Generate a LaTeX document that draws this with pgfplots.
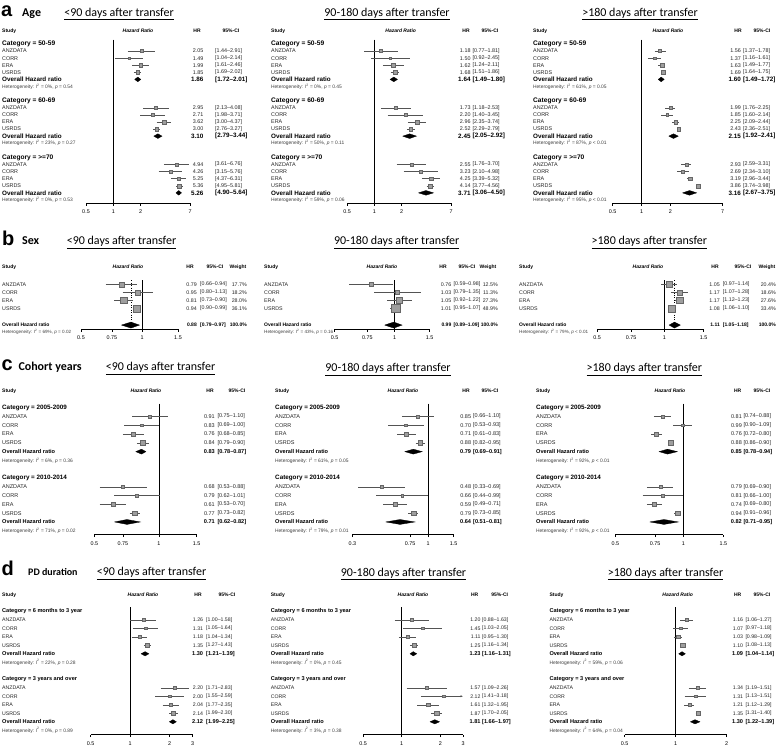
\documentclass[border=0pt]{standalone}
\usepackage{pgfplots}
\pgfplotsset{compat=1.18}
\usetikzlibrary{arrows.meta}
\usepackage{fontspec}
\setmainfont{Liberation Sans}
\newfontfamily\carl{Carlito}
\definecolor{cig}{gray}{0.33}
\definecolor{sqf}{gray}{0.62}
\definecolor{sqd}{gray}{0.40}
\newcommand\fs[1]{\fontsize{#1}{#1}\selectfont}
\def\NF{5.4}\def\CF{6.4}\def\OF{6.2}\def\HF{4.9}\def\HDF{5}
\tikzset{
  nm/.style={inner sep=0pt, anchor=west, font=\fs{\NF}, text=black!85},
  nr/.style={inner sep=0pt, anchor=east, font=\fs{\NF}, text=black!85},
  ct/.style={inner sep=0pt, anchor=west, font=\bfseries\fs{\CF}},
  ov/.style={inner sep=0pt, anchor=west, font=\bfseries\fs{\OF}},
  ovr/.style={inner sep=0pt, anchor=east, font=\bfseries\fs{\OF}},
  ht/.style={inner sep=0pt, anchor=west, font=\fs{\HF}, text=black!75},
  hd/.style={inner sep=0pt, font=\bfseries\fs{\HDF}},
  hdi/.style={inner sep=0pt, font=\bfseries\itshape\fs{\HDF}},
  ttl/.style={inner sep=0pt, anchor=base, font=\carl\fs{12}},
  plet/.style={inner sep=0pt, anchor=base west, font=\bfseries\fs{20}},
  cw/.style={inner sep=0pt, anchor=base west, font=\carl\bfseries\fs{12}},
}
\newcommand\tHead[4]{\node[hd,anchor=west] at (\NX,#1) {Study};
  \node[hdi] at (#2,#1) {Hazard Ratio};
  \node[hd] at (#3,#1) {HR};
  \node[hd] at (#4,#1) {95\%-CI};}
\newcommand\tHeadW[5]{\tHead{#1}{#2}{#3}{#4}\node[hd] at (#5,#1) {Weight};}
\newcommand\tC[2]{\node[ct] at (\NX,#1) {Category = #2};}
\newcommand\tS[4]{\node[nm] at (\NX,#1) {#2};\node[nr] at (\HX,#1) {#3};\node[nm] at (\CX,#1) {[#4]};}
\newcommand\tW[5]{\tS{#1}{#2}{#3}{#4}\node[nr] at (\WX,#1) {#5\%};}
\newcommand\tO[3]{\node[ov] at (\NX,#1) {Overall Hazard ratio};\node[ovr] at (\HX,#1) {#2};\node[ov] at (\CX,#1) {[#3]};}
\newcommand\tOW[3]{\tO{#1}{#2}{#3}\node[ovr] at (\WX,#1) {100.0\%};}
\newcommand\tH[3]{\node[ht] at (\NX,#1) {Heterogeneity: \textit{I}\textsuperscript{2} = #2\%, \textit{p} #3};}

\pgfplotsset{
  fpax/.style={scale only axis, anchor=south west, clip=false,
    axis x line*=bottom, axis y line=none, ytick=\empty,
    xtick align=outside, major tick length=2.5pt, xminorticks=false,
    axis line style={black, line width=0.45pt},
    tick style={black, line width=0.45pt},
    xticklabel style={font=\fs{5.4}, inner sep=1.5pt, yshift=-2.5pt}},
  sqst/.style={only marks, mark=square*, mark options={fill=sqf, draw=sqd, line width=0.3pt}},
  cil/.style={cig, line width=0.45pt},
  dia/.style={fill=black, draw=black, line width=0.3pt},
}
\newcommand\aS[5]{\addplot[sqst, mark size=#5] coordinates {(#2,-#1)};\addplot[cil] coordinates {(#3,-#1) (#4,-#1)};}
\newcommand\aD[5]{\pgfmathsetmacro\ya{-#1+#5}\pgfmathsetmacro\yb{-#1-#5}\addplot[dia] coordinates {(#3,-#1) (#2,\ya) (#4,-#1) (#2,\yb) (#3,-#1)};}
\newcommand\aR[2]{\addplot[black, line width=0.45pt] coordinates {(1,#1) (1,#2)};}
\newcommand\aO[3]{\addplot[black, dotted, line width=0.45pt] coordinates {(#1,#2) (#1,#3)};}

\begin{document}
\begin{tikzpicture}
\useasboundingbox (0,0) rectangle (778pt,-746pt);

% ================= headings
\node[plet] at (1pt,-16.5pt) {a};
\node[cw] at (22pt,-16.3pt) {Age};
\node[ttl] at (119pt,-16.3pt) {\underline{<90 days after transfer}};
\node[ttl] at (387pt,-16.3pt) {\underline{90-180 days after transfer}};
\node[ttl] at (640pt,-16.3pt) {\underline{>180 days after transfer}};
\node[plet] at (2pt,-245pt) {b};
\node[cw] at (22pt,-244.5pt) {Sex};
\node[ttl] at (121.5pt,-244.5pt) {\underline{<90 days after transfer}};
\node[ttl] at (396.7pt,-244.5pt) {\underline{90-180 days after transfer}};
\node[ttl] at (649.3pt,-244.5pt) {\underline{>180 days after transfer}};
\node[plet] at (1.5pt,-370.5pt) {c};
\node[cw] at (18.3pt,-370.5pt) {Cohort years};
\node[ttl] at (160.5pt,-370.5pt) {\underline{<90 days after transfer}};
\node[ttl] at (388pt,-371.5pt) {\underline{90-180 days after transfer}};
\node[ttl] at (644.3pt,-371.5pt) {\underline{>180 days after transfer}};
\node[plet] at (1.5pt,-575.5pt) {d};
\node[cw, font=\carl\bfseries\fs{10}] at (28pt,-575.5pt) {PD duration};
\node[ttl] at (151.5pt,-575.5pt) {\underline{<90 days after transfer}};
\node[ttl] at (403.5pt,-576pt) {\underline{90-180 days after transfer}};
\node[ttl] at (665.5pt,-576pt) {\underline{>180 days after transfer}};

% ================= ROW A text
\def\NF{5.4}\def\CF{6.6}\def\OF{6.3}
\begin{scope}[shift={(0pt,-44pt)}, x=1pt, y=-7.09pt]
\def\NX{2}\def\HX{203.5}\def\CX{215}
\tHead{-1.83}{138}{197}{231}
\tC{0}{50-59}
\tS{1}{ANZDATA}{2.05}{1.44--2.91}
\tS{2}{CORR}{1.49}{1.04--2.14}
\tS{3}{ERA}{1.99}{1.61--2.46}
\tS{4}{USRDS}{1.85}{1.69--2.02}
\tO{5}{1.86}{1.72--2.01}
\tH{6}{0}{= 0.54}
\tC{8}{60-69}
\tS{9}{ANZDATA}{2.95}{2.13--4.08}
\tS{10}{CORR}{2.71}{1.98--3.71}
\tS{11}{ERA}{3.62}{3.00--4.37}
\tS{12}{USRDS}{3.00}{2.76--3.27}
\tO{13}{3.10}{2.79--3.44}
\tH{14}{23}{= 0.27}
\tC{16}{>=70}
\tS{17}{ANZDATA}{4.94}{3.61--6.76}
\tS{18}{CORR}{4.26}{3.15--5.76}
\tS{19}{ERA}{5.25}{4.37--6.31}
\tS{20}{USRDS}{5.36}{4.95--5.81}
\tO{21}{5.26}{4.90--5.64}
\tH{22}{0}{= 0.53}
\end{scope}
\begin{scope}[shift={(0pt,-44pt)}, x=1pt, y=-7.09pt]
\def\NX{271}\def\HX{470.7}\def\CX{472.5}
\tHead{-1.83}{400.7}{466}{490}
\tC{0}{50-59}
\tS{1}{ANZDATA}{1.18}{0.77--1.81}
\tS{2}{CORR}{1.50}{0.92--2.45}
\tS{3}{ERA}{1.62}{1.24--2.11}
\tS{4}{USRDS}{1.68}{1.51--1.86}
\tO{5}{1.64}{1.49--1.80}
\tH{6}{0}{= 0.45}
\tC{8}{60-69}
\tS{9}{ANZDATA}{1.73}{1.18--2.53}
\tS{10}{CORR}{2.20}{1.40--3.45}
\tS{11}{ERA}{2.96}{2.35--3.74}
\tS{12}{USRDS}{2.52}{2.29--2.79}
\tO{13}{2.45}{2.05--2.92}
\tH{14}{50}{= 0.11}
\tC{16}{>=70}
\tS{17}{ANZDATA}{2.55}{1.76--3.70}
\tS{18}{CORR}{3.23}{2.10--4.98}
\tS{19}{ERA}{4.25}{3.39--5.32}
\tS{20}{USRDS}{4.14}{3.77--4.56}
\tO{21}{3.71}{3.06--4.50}
\tH{22}{59}{= 0.06}
\end{scope}
\begin{scope}[shift={(0pt,-44pt)}, x=1pt, y=-7.09pt]
\def\NX{533}\def\HX{741}\def\CX{743}
\tHead{-1.83}{668}{738}{762}
\tC{0}{50-59}
\tS{1}{ANZDATA}{1.56}{1.37--1.78}
\tS{2}{CORR}{1.37}{1.16--1.61}
\tS{3}{ERA}{1.63}{1.49--1.77}
\tS{4}{USRDS}{1.69}{1.64--1.75}
\tO{5}{1.60}{1.49--1.72}
\tH{6}{61}{= 0.05}
\tC{8}{60-69}
\tS{9}{ANZDATA}{1.99}{1.76--2.25}
\tS{10}{CORR}{1.85}{1.60--2.14}
\tS{11}{ERA}{2.25}{2.09--2.44}
\tS{12}{USRDS}{2.43}{2.36--2.51}
\tO{13}{2.15}{1.92--2.41}
\tH{14}{87}{< 0.01}
\tC{16}{>=70}
\tS{17}{ANZDATA}{2.93}{2.59--3.31}
\tS{18}{CORR}{2.69}{2.34--3.10}
\tS{19}{ERA}{3.19}{2.96--3.44}
\tS{20}{USRDS}{3.86}{3.74--3.98}
\tO{21}{3.16}{2.67--3.75}
\tH{22}{95}{< 0.01}
\end{scope}

% ================= ROW A plots
\begin{axis}[fpax, xmode=log, at={(86pt,-203pt)}, width=104pt, height=163.3pt, xmin=0.5, xmax=7, ymin=-22.43, ymax=0.6, xtick={0.5,1,2,7}, xticklabels={0.5,1,2,7}]
\aR{0.6}{-22.43}
\aS{1}{2.05}{1.44}{2.91}{1.5}\aS{2}{1.49}{1.04}{2.14}{1.3}\aS{3}{1.99}{1.61}{2.46}{1.7}\aS{4}{1.85}{1.69}{2.02}{1.9}
\aD{5}{1.86}{1.72}{2.01}{0.33}
\aS{9}{2.95}{2.13}{4.08}{1.5}\aS{10}{2.71}{1.98}{3.71}{1.3}\aS{11}{3.62}{3.00}{4.37}{1.7}\aS{12}{3.00}{2.76}{3.27}{1.9}
\aD{13}{3.10}{2.79}{3.44}{0.33}
\aS{17}{4.94}{3.61}{6.76}{1.5}\aS{18}{4.26}{3.15}{5.76}{1.3}\aS{19}{5.25}{4.37}{6.31}{1.7}\aS{20}{5.36}{4.95}{5.81}{1.9}
\aD{21}{5.26}{4.90}{5.64}{0.33}
\end{axis}
\begin{axis}[fpax, xmode=log, at={(347pt,-203pt)}, width=104pt, height=163.3pt, xmin=0.5, xmax=7, ymin=-22.43, ymax=0.6, xtick={0.5,1,2,7}, xticklabels={0.5,1,2,7}]
\aR{0.6}{-22.43}
\aS{1}{1.18}{0.77}{1.81}{1.5}\aS{2}{1.50}{0.92}{2.45}{1.3}\aS{3}{1.62}{1.24}{2.11}{1.7}\aS{4}{1.68}{1.51}{1.86}{1.9}
\aD{5}{1.64}{1.49}{1.80}{0.33}
\aS{9}{1.73}{1.18}{2.53}{1.5}\aS{10}{2.20}{1.40}{3.45}{1.3}\aS{11}{2.96}{2.35}{3.74}{1.7}\aS{12}{2.52}{2.29}{2.79}{1.9}
\aD{13}{2.45}{2.05}{2.92}{0.33}
\aS{17}{2.55}{1.76}{3.70}{1.5}\aS{18}{3.23}{2.10}{4.98}{1.3}\aS{19}{4.25}{3.39}{5.32}{1.7}\aS{20}{4.14}{3.77}{4.56}{1.9}
\aD{21}{3.71}{3.06}{4.50}{0.33}
\end{axis}
\begin{axis}[fpax, xmode=log, at={(612.7pt,-203pt)}, width=110pt, height=163.3pt, xmin=0.5, xmax=7, ymin=-22.43, ymax=0.6, xtick={0.5,1,2,7}, xticklabels={0.5,1,2,7}]
\aR{0.6}{-22.43}
\aS{1}{1.56}{1.37}{1.78}{1.5}\aS{2}{1.37}{1.16}{1.61}{1.3}\aS{3}{1.63}{1.49}{1.77}{1.7}\aS{4}{1.69}{1.64}{1.75}{1.9}
\aD{5}{1.60}{1.49}{1.72}{0.33}
\aS{9}{1.99}{1.76}{2.25}{1.5}\aS{10}{1.85}{1.60}{2.14}{1.3}\aS{11}{2.25}{2.09}{2.44}{1.7}\aS{12}{2.43}{2.36}{2.51}{1.9}
\aD{13}{2.15}{1.92}{2.41}{0.33}
\aS{17}{2.93}{2.59}{3.31}{1.5}\aS{18}{2.69}{2.34}{3.10}{1.3}\aS{19}{3.19}{2.96}{3.44}{1.7}\aS{20}{3.86}{3.74}{3.98}{1.9}
\aD{21}{3.16}{2.67}{3.75}{0.33}
\end{axis}

% ================= ROW B text
\def\NF{5.3}\def\OF{5.0}\def\HF{4.6}
\begin{scope}[shift={(0pt,-284.3pt)}, x=1pt, y=-8pt]
\def\NX{2}\def\HX{197}\def\CX{200}\def\WX{247}
\tHeadW{-2.16}{128}{190}{215}{238}
\tW{0}{ANZDATA}{0.79}{0.66--0.94}{17.7}
\tW{1}{CORR}{0.95}{0.80--1.13}{18.2}
\tW{2}{ERA}{0.81}{0.73--0.90}{28.0}
\tW{3}{USRDS}{0.94}{0.90--0.99}{36.1}
\tOW{5.1}{0.88}{0.79--0.97}
\tH{6.0}{69}{= 0.02}
\end{scope}
\begin{scope}[shift={(0pt,-284.3pt)}, x=1pt, y=-8pt]
\def\NX{264}\def\HX{451.5}\def\CX{453.5}\def\WX{498}
\tHeadW{-2.16}{382}{443}{467}{488}
\tW{0}{ANZDATA}{0.76}{0.59--0.98}{12.5}
\tW{1}{CORR}{1.03}{0.79--1.35}{11.3}
\tW{2}{ERA}{1.05}{0.92--1.22}{27.3}
\tW{3}{USRDS}{1.01}{0.95--1.07}{48.9}
\tOW{5.1}{0.99}{0.89--1.09}
\tH{6.0}{43}{= 0.16}
\end{scope}
\begin{scope}[shift={(0pt,-284.3pt)}, x=1pt, y=-8pt]
\def\NX{519}\def\HX{720}\def\CX{722.7}\def\WX{776}
\tHeadW{-2.16}{648}{715}{743}{767}
\tW{0}{ANZDATA}{1.05}{0.97--1.14}{20.4}
\tW{1}{CORR}{1.17}{1.07--1.28}{18.6}
\tW{2}{ERA}{1.17}{1.12--1.23}{27.6}
\tW{3}{USRDS}{1.08}{1.06--1.10}{33.4}
\tOW{5.1}{1.11}{1.05--1.18}
\tH{6.0}{79}{< 0.01}
\end{scope}
\def\HF{4.9}

% ================= ROW B plots
\begin{axis}[fpax, xmode=log, at={(81pt,-329pt)}, width=97pt, height=48.72pt, xmin=0.5, xmax=1.5, ymin=-5.59, ymax=0.5, xtick={0.5,0.71,1,1.5}, xticklabels={0.5,0.75,1,1.5}]
\aR{0.5}{-5.59}\aO{0.88}{0.5}{-5.59}
\aS{0}{0.79}{0.66}{0.94}{2.5}\aS{1}{0.95}{0.80}{1.13}{2.54}\aS{2}{0.81}{0.73}{0.90}{3.15}\aS{3}{0.94}{0.90}{0.99}{3.57}
\aD{5.1}{0.88}{0.79}{0.97}{0.375}
\end{axis}
\begin{axis}[fpax, xmode=log, at={(334.7pt,-329pt)}, width=95pt, height=48.72pt, xmin=0.5, xmax=1.5, ymin=-5.59, ymax=0.5, xtick={0.5,0.73,1,1.5}, xticklabels={0.5,0.75,1,1.5}]
\aR{0.5}{-5.59}\aO{0.99}{0.5}{-5.59}
\aS{0}{0.76}{0.59}{0.98}{2.1}\aS{1}{1.03}{0.79}{1.35}{2.0}\aS{2}{1.05}{0.92}{1.22}{3.1}\aS{3}{1.01}{0.95}{1.07}{4.16}
\aD{5.1}{0.99}{0.89}{1.09}{0.375}
\end{axis}
\begin{axis}[fpax, xmode=log, at={(597pt,-329pt)}, width=106.7pt, height=48.72pt, xmin=0.5, xmax=1.5, ymin=-5.59, ymax=0.5, xtick={0.5,0.71,1,1.5}, xticklabels={0.5,0.75,1,1.5}]
\aR{0.5}{-5.59}\aO{1.11}{0.5}{-5.59}
\aS{0}{1.05}{0.97}{1.14}{2.69}\aS{1}{1.17}{1.07}{1.28}{2.57}\aS{2}{1.17}{1.12}{1.23}{3.13}\aS{3}{1.08}{1.06}{1.10}{3.44}
\aD{5.1}{1.11}{1.05}{1.18}{0.375}
\end{axis}

% ================= ROW C text
\def\NF{5.5}\def\CF{6.3}\def\OF{5.6}
\begin{scope}[shift={(0pt,-407.7pt)}, x=1pt, y=-8.79pt]
\def\NX{2}\def\HX{215}\def\CX{217.3}
\tHead{-1.9}{146}{210}{237}
\tC{0}{2005-2009}
\tS{1}{ANZDATA}{0.91}{0.75--1.10}
\tS{2}{CORR}{0.83}{0.69--1.00}
\tS{3}{ERA}{0.76}{0.68--0.85}
\tS{4}{USRDS}{0.84}{0.79--0.90}
\tO{5}{0.83}{0.78--0.87}
\tH{6}{6}{= 0.36}
\tC{8}{2010-2014}
\tS{9}{ANZDATA}{0.68}{0.53--0.88}
\tS{10}{CORR}{0.79}{0.62--1.01}
\tS{11}{ERA}{0.61}{0.53--0.70}
\tS{12}{USRDS}{0.77}{0.73--0.82}
\tO{13}{0.71}{0.62--0.82}
\tH{14}{71}{= 0.02}
\end{scope}
\begin{scope}[shift={(0pt,-407.7pt)}, x=1pt, y=-8.79pt]
\def\NX{275}\def\HX{471.3}\def\CX{473}
\tHead{-1.9}{403}{466}{490}
\tC{0}{2005-2009}
\tS{1}{ANZDATA}{0.85}{0.66--1.10}
\tS{2}{CORR}{0.70}{0.53--0.93}
\tS{3}{ERA}{0.71}{0.61--0.83}
\tS{4}{USRDS}{0.88}{0.82--0.95}
\tO{5}{0.79}{0.69--0.91}
\tH{6}{61}{= 0.05}
\tC{8}{2010-2014}
\tS{9}{ANZDATA}{0.48}{0.33--0.69}
\tS{10}{CORR}{0.66}{0.44--0.99}
\tS{11}{ERA}{0.59}{0.49--0.71}
\tS{12}{USRDS}{0.79}{0.73--0.85}
\tO{13}{0.64}{0.51--0.81}
\tH{14}{79}{= 0.01}
\end{scope}
\begin{scope}[shift={(0pt,-407.7pt)}, x=1pt, y=-8.79pt]
\def\NX{536}\def\HX{742}\def\CX{743.3}
\tHead{-1.9}{670}{737.7}{762}
\tC{0}{2005-2009}
\tS{1}{ANZDATA}{0.81}{0.74--0.88}
\tS{2}{CORR}{0.99}{0.90--1.09}
\tS{3}{ERA}{0.76}{0.72--0.80}
\tS{4}{USRDS}{0.88}{0.86--0.90}
\tO{5}{0.85}{0.78--0.94}
\tH{6}{92}{< 0.01}
\tC{8}{2010-2014}
\tS{9}{ANZDATA}{0.79}{0.69--0.90}
\tS{10}{CORR}{0.81}{0.66--1.00}
\tS{11}{ERA}{0.74}{0.69--0.80}
\tS{12}{USRDS}{0.94}{0.91--0.96}
\tO{13}{0.82}{0.71--0.95}
\tH{14}{92}{< 0.01}
\end{scope}

% ================= ROW C plots
\begin{axis}[fpax, xmode=log, at={(94.3pt,-534.7pt)}, width=102.4pt, height=131.06pt, xmin=0.5, xmax=1.5, ymin=-14.45, ymax=0.46, xtick={0.5,0.68,1,1.5}, xticklabels={0.5,0.75,1,1.5}]
\aR{0.46}{-14.45}
\aS{1}{0.91}{0.75}{1.10}{1.5}\aS{2}{0.83}{0.69}{1.00}{1.3}\aS{3}{0.76}{0.68}{0.85}{2.0}\aS{4}{0.84}{0.79}{0.90}{2.4}
\aD{5}{0.83}{0.78}{0.87}{0.28}
\aS{9}{0.68}{0.53}{0.88}{1.5}\aS{10}{0.79}{0.62}{1.01}{1.3}\aS{11}{0.61}{0.53}{0.70}{2.0}\aS{12}{0.77}{0.73}{0.82}{2.4}
\aD{13}{0.71}{0.62}{0.82}{0.28}
\end{axis}
\begin{axis}[fpax, xmode=log, at={(352.3pt,-534.7pt)}, width=101.4pt, height=131.06pt, xmin=0.3, xmax=1.5, ymin=-14.45, ymax=0.46, xtick={0.3,0.75,1,1.5}, xticklabels={0.3,0.75,1,1.5}]
\aR{0.46}{-14.45}
\aS{1}{0.85}{0.66}{1.10}{1.5}\aS{2}{0.70}{0.53}{0.93}{1.3}\aS{3}{0.71}{0.61}{0.83}{2.0}\aS{4}{0.88}{0.82}{0.95}{2.4}
\aD{5}{0.79}{0.69}{0.91}{0.28}
\aS{9}{0.48}{0.33}{0.69}{1.5}\aS{10}{0.66}{0.44}{0.99}{1.3}\aS{11}{0.59}{0.49}{0.71}{2.0}\aS{12}{0.79}{0.73}{0.85}{2.4}
\aD{13}{0.64}{0.51}{0.81}{0.28}
\end{axis}
\begin{axis}[fpax, xmode=log, at={(615.3pt,-534.7pt)}, width=108pt, height=131.06pt, xmin=0.5, xmax=1.5, ymin=-14.45, ymax=0.46, xtick={0.5,0.75,1,1.5}, xticklabels={0.5,0.75,1,1.5}]
\aR{0.46}{-14.45}
\aS{1}{0.81}{0.74}{0.88}{1.5}\aS{2}{0.99}{0.90}{1.09}{1.3}\aS{3}{0.76}{0.72}{0.80}{2.0}\aS{4}{0.88}{0.86}{0.90}{2.4}
\aD{5}{0.85}{0.78}{0.94}{0.28}
\aS{9}{0.79}{0.69}{0.90}{1.5}\aS{10}{0.81}{0.66}{1.00}{1.3}\aS{11}{0.74}{0.69}{0.80}{2.0}\aS{12}{0.94}{0.91}{0.96}{2.4}
\aD{13}{0.82}{0.71}{0.95}{0.28}
\end{axis}

% ================= ROW D text
\def\NF{5.2}\def\CF{5.6}\def\OF{5.6}
\begin{scope}[shift={(0pt,-611.3pt)}, x=1pt, y=-8.5pt]
\def\NX{2}\def\HX{203.3}\def\CX{206}
\tHead{-1.95}{143}{198}{227}
\tC{0}{6 months to 3 year}
\tS{1}{ANZDATA}{1.26}{1.00--1.58}
\tS{2}{CORR}{1.31}{1.05--1.64}
\tS{3}{ERA}{1.18}{1.04--1.34}
\tS{4}{USRDS}{1.35}{1.27--1.43}
\tO{5}{1.30}{1.21--1.39}
\tH{6}{22}{= 0.28}
\tC{8}{3 years and over}
\tS{9}{ANZDATA}{2.20}{1.71--2.83}
\tS{10}{CORR}{2.00}{1.55--2.59}
\tS{11}{ERA}{2.04}{1.77--2.35}
\tS{12}{USRDS}{2.14}{1.99--2.30}
\tO{13}{2.12}{1.99--2.25}
\tH{14}{0}{= 0.89}
\end{scope}
\begin{scope}[shift={(0pt,-611.3pt)}, x=1pt, y=-8.5pt]
\def\NX{270.7}\def\HX{480.7}\def\CX{482}
\tHead{-1.95}{413}{474.7}{499.7}
\tC{0}{6 months to 3 year}
\tS{1}{ANZDATA}{1.20}{0.88--1.63}
\tS{2}{CORR}{1.45}{1.03--2.05}
\tS{3}{ERA}{1.11}{0.95--1.30}
\tS{4}{USRDS}{1.25}{1.16--1.34}
\tO{5}{1.23}{1.16--1.31}
\tH{6}{0}{= 0.45}
\tC{8}{3 years and over}
\tS{9}{ANZDATA}{1.57}{1.09--2.26}
\tS{10}{CORR}{2.12}{1.41--3.18}
\tS{11}{ERA}{1.61}{1.32--1.95}
\tS{12}{USRDS}{1.87}{1.70--2.05}
\tO{13}{1.81}{1.66--1.97}
\tH{14}{3}{= 0.38}
\end{scope}
\begin{scope}[shift={(0pt,-611.3pt)}, x=1pt, y=-8.5pt]
\def\NX{549.3}\def\HX{743.3}\def\CX{745.3}
\tHead{-1.95}{677.7}{737.7}{762}
\tC{0}{6 months to 3 year}
\tS{1}{ANZDATA}{1.16}{1.06--1.27}
\tS{2}{CORR}{1.07}{0.97--1.18}
\tS{3}{ERA}{1.03}{0.98--1.09}
\tS{4}{USRDS}{1.10}{1.08--1.13}
\tO{5}{1.09}{1.04--1.14}
\tH{6}{59}{= 0.06}
\tC{8}{3 years and over}
\tS{9}{ANZDATA}{1.34}{1.19--1.51}
\tS{10}{CORR}{1.31}{1.13--1.51}
\tS{11}{ERA}{1.21}{1.12--1.29}
\tS{12}{USRDS}{1.35}{1.31--1.40}
\tO{13}{1.30}{1.22--1.39}
\tH{14}{64}{= 0.04}
\end{scope}

% ================= ROW D plots
\begin{axis}[fpax, xmode=log, at={(90.7pt,-734.7pt)}, width=102pt, height=127.67pt, xmin=0.5, xmax=3, ymin=-14.52, ymax=0.5, xtick={0.5,1,2,3}, xticklabels={0.5,1,2,3}]
\aR{0.5}{-14.52}
\aS{1}{1.26}{1.00}{1.58}{1.5}\aS{2}{1.31}{1.05}{1.64}{1.3}\aS{3}{1.18}{1.04}{1.34}{1.8}\aS{4}{1.35}{1.27}{1.43}{2.1}
\aD{5}{1.30}{1.21}{1.39}{0.25}
\aS{9}{2.20}{1.71}{2.83}{1.5}\aS{10}{2.00}{1.55}{2.59}{1.3}\aS{11}{2.04}{1.77}{2.35}{1.8}\aS{12}{2.14}{1.99}{2.30}{2.1}
\aD{13}{2.12}{1.99}{2.25}{0.25}
\end{axis}
\begin{axis}[fpax, xmode=log, at={(363pt,-734.7pt)}, width=100pt, height=127.67pt, xmin=0.5, xmax=3, ymin=-14.52, ymax=0.5, xtick={0.5,1,2,3}, xticklabels={0.5,1,2,3}]
\aR{0.5}{-14.52}
\aS{1}{1.20}{0.88}{1.63}{1.5}\aS{2}{1.45}{1.03}{2.05}{1.3}\aS{3}{1.11}{0.95}{1.30}{1.8}\aS{4}{1.25}{1.16}{1.34}{2.1}
\aD{5}{1.23}{1.16}{1.31}{0.25}
\aS{9}{1.57}{1.09}{2.26}{1.5}
\addplot[sqst, mark size=1.3] coordinates {(2.12,-10)};
\addplot[cil, -{Latex[length=2.5pt,width=2.2pt]}] coordinates {(1.41,-10) (3,-10)};
\aS{11}{1.61}{1.32}{1.95}{1.8}\aS{12}{1.87}{1.70}{2.05}{2.1}
\aD{13}{1.81}{1.66}{1.97}{0.25}
\end{axis}
\begin{axis}[fpax, xmode=log, at={(624.7pt,-734.7pt)}, width=102pt, height=127.67pt, xmin=0.5, xmax=2, ymin=-14.52, ymax=0.5, xtick={0.5,1,2}, xticklabels={0.5,1,2}]
\aR{0.5}{-14.52}
\aS{1}{1.16}{1.06}{1.27}{1.5}\aS{2}{1.07}{0.97}{1.18}{1.3}\aS{3}{1.03}{0.98}{1.09}{1.8}\aS{4}{1.10}{1.08}{1.13}{2.1}
\aD{5}{1.09}{1.04}{1.14}{0.25}
\aS{9}{1.34}{1.19}{1.51}{1.5}\aS{10}{1.31}{1.13}{1.51}{1.3}\aS{11}{1.21}{1.12}{1.29}{1.8}\aS{12}{1.35}{1.31}{1.40}{2.1}
\aD{13}{1.30}{1.22}{1.39}{0.25}
\end{axis}
\end{tikzpicture}
\end{document}
